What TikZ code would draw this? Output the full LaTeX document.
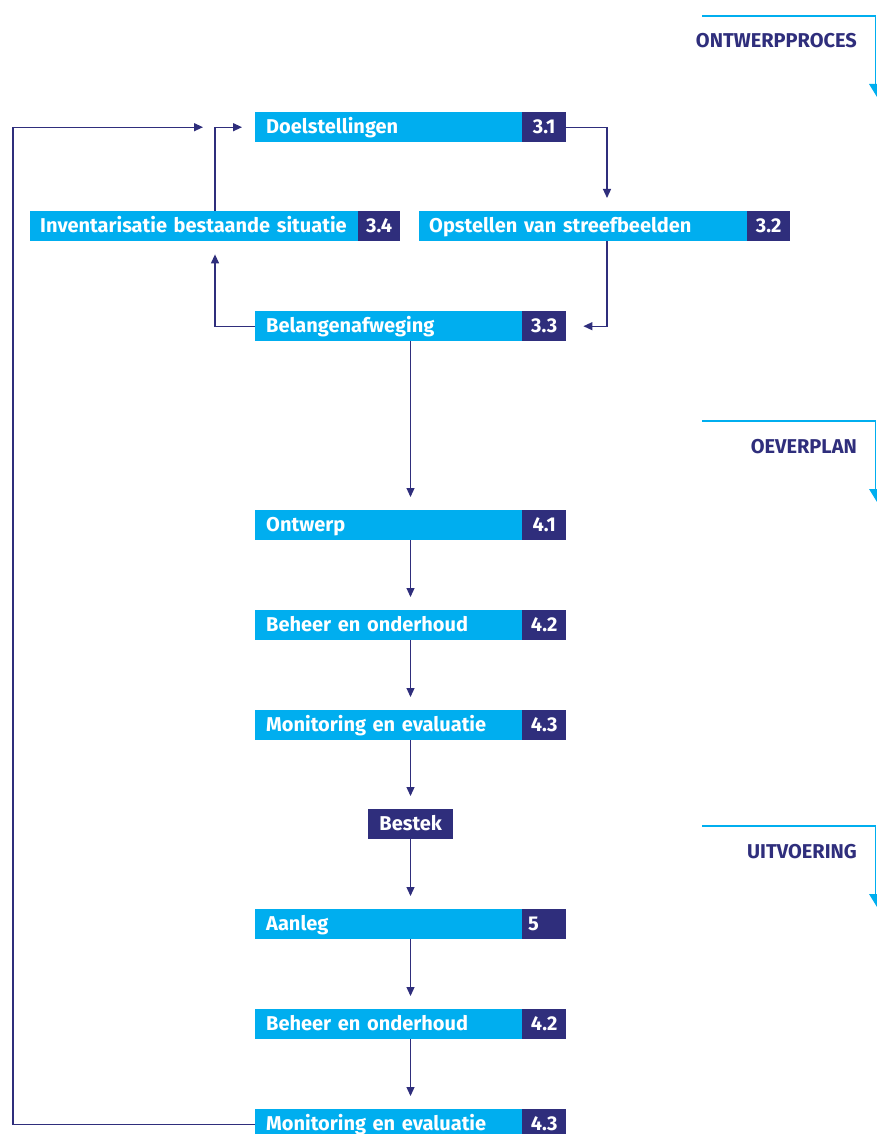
\documentclass[tikz,border=0pt]{standalone}
\usepackage{fontspec}
\usetikzlibrary{arrows.meta,calc}
\newfontfamily\firafam{Fira Sans}
\definecolor{cyanc}{HTML}{00AEEF}
\definecolor{navy}{HTML}{2F2E7C}
\newcommand{\boxfont}{\firafam\bfseries\fontsize{20}{23}\selectfont}
\tikzset{
  mainbox/.style={fill=cyanc, text=white, font=\boxfont, minimum height=30pt, inner ysep=0pt, inner xsep=11pt, anchor=north west, align=left, text height=13.5pt, text depth=0.5pt},
  numbox/.style={fill=navy, text=white, font=\boxfont, minimum height=30pt, minimum width=44pt, inner sep=0pt, anchor=north west, text height=13.5pt, text depth=0.5pt},
  arr/.style={draw=navy, line width=1.2pt, -{Triangle[length=9pt,width=8pt]}},
  bracket/.style={draw=cyanc, line width=1.6pt},
  sectlbl/.style={text=navy, font=\boxfont, anchor=base east, inner sep=0pt},
}
\begin{document}
\begin{tikzpicture}[x=1pt,y=-1pt]
\useasboundingbox[fill=white] (0,0) rectangle (877,1134);
% boxes
\node[mainbox, text width=245pt] (d31) at (255,112) {Doelstellingen};
\node[numbox] (n31) at (522,112) {3.1};
\node[mainbox, inner xsep=10pt, text width=308pt] (i34) at (30,211) {Inventarisatie bestaande situatie};
\node[numbox, minimum width=42pt] (n34) at (358,211) {3.4};
\node[mainbox, inner xsep=10pt, text width=308pt] (o32) at (419,211) {Opstellen van streefbeelden};
\node[numbox, minimum width=43pt] (n32) at (747,211) {3.2};
\node[mainbox, text width=245pt] (b33) at (255,311) {Belangenafweging};
\node[numbox] (n33) at (522,311) {3.3};
\node[mainbox, text width=245pt] (o41) at (255,510) {Ontwerp};
\node[numbox] (n41) at (522,510) {4.1};
\node[mainbox, text width=245pt] (b42) at (255,610) {Beheer en onderhoud};
\node[numbox] (n42) at (522,610) {4.2};
\node[mainbox, text width=245pt] (m43) at (255,710) {Monitoring en evaluatie};
\node[numbox] (n43) at (522,710) {4.3};
\node[numbox, minimum width=85pt] (best) at (368,809) {Bestek};
\node[mainbox, text width=245pt] (a5) at (255,909) {Aanleg};
\node[numbox, inner xsep=6pt, text width=32pt, align=left] (n5) at (522,909) {5};
\node[mainbox, text width=245pt] (b42b) at (255,1009) {Beheer en onderhoud};
\node[numbox] (n42b) at (522,1009) {4.2};
\node[mainbox, text width=245pt] (m43b) at (255,1109) {Monitoring en evaluatie};
\node[numbox] (n43b) at (522,1109) {4.3};
% helper coordinates
\coordinate (xa) at (607,0);
\coordinate (xb) at (215,0);
\coordinate (xc) at (410.5,0);
\coordinate (xd) at (13,0);
% connectors
\draw[arr, shorten >=13pt] (n31.east) -| (xa |- o32.north);
\draw[arr, shorten >=17pt] (xa |- o32.south) |- (n33.east);
\draw[arr, shorten >=13pt] (b33.west) -| (xb |- i34.south);
\draw[arr, shorten >=13pt] (xb |- i34.north) |- (d31.west);
\draw[arr, shorten >=52pt] (m43b.west) -| (xd |- d31.west) -- (d31.west);
\draw[arr, shorten >=13pt] (xc |- b33.south) -- (xc |- o41.north);
\draw[arr, shorten >=13pt] (xc |- o41.south) -- (xc |- b42.north);
\draw[arr, shorten >=13pt] (xc |- b42.south) -- (xc |- m43.north);
\draw[arr, shorten >=13pt] (xc |- m43.south) -- (xc |- best.north);
\draw[arr, shorten >=13pt] (xc |- best.south) -- (xc |- a5.north);
\draw[arr, shorten >=13pt] (xc |- a5.south) -- (xc |- b42b.north);
\draw[arr, shorten >=13pt] (xc |- b42b.south) -- (xc |- m43b.north);
% section brackets
\foreach \yy/\txt/\nm in {16/ONTWERPPROCES/s1, 421/OEVERPLAN/s2, 826/UITVOERING/s3}{
  \draw[bracket] (702,\yy) -- (875.5,\yy) -- (875.5,\yy+68);
  \fill[cyanc] (869,\yy+68) -- (877,\yy+68) -- (877,\yy+81) -- cycle;
  \node[sectlbl] (\nm) at (857,\yy+32) {\txt};
}
\end{tikzpicture}
\end{document}
